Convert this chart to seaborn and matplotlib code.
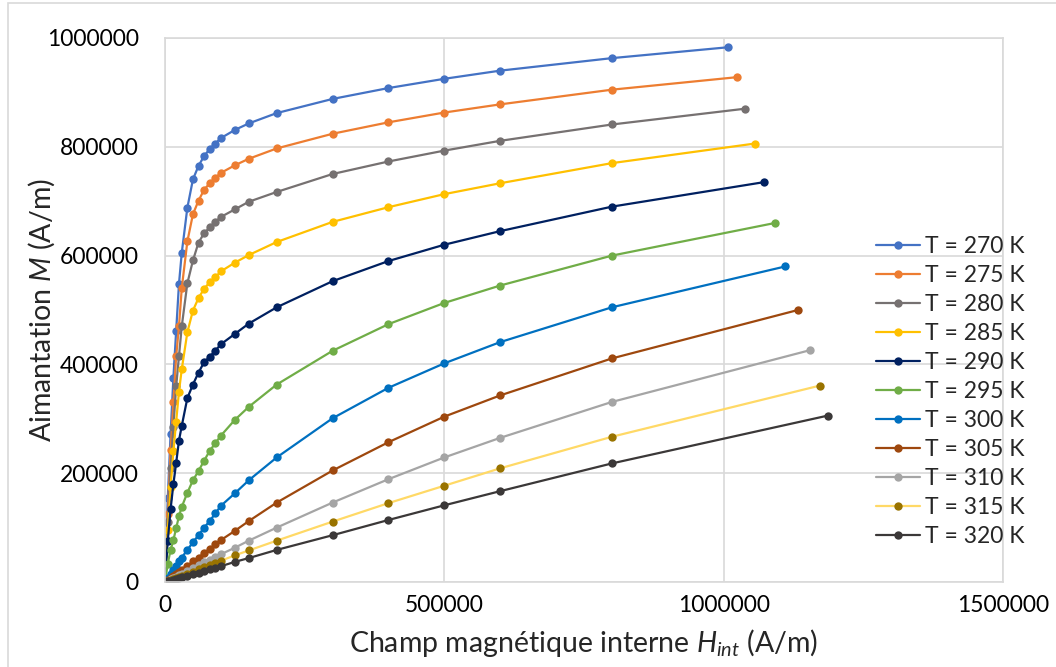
import numpy as np
import pandas as pd
import seaborn as sns
import matplotlib
matplotlib.use("Agg")
import matplotlib.pyplot as plt
from matplotlib.patches import Rectangle

# Temperatures and colours (Excel style)
temperatures = [270, 275, 280, 285, 290, 295, 300, 305, 310, 315, 320]
line_colors = ["#4472C4", "#ED7D31", "#767171", "#FFC000", "#002060", "#70AD47",
               "#0070C0", "#9E480E", "#A5A5A5", "#FFD966", "#3B3838"]
marker_colors = ["#4472C4", "#ED7D31", "#767171", "#FFC000", "#002060", "#70AD47",
                 "#0070C0", "#9E480E", "#A5A5A5", "#997300", "#3B3838"]

# Internal field values (A/m), shared by all curves, last point differs per curve
H_common = [0, 5000, 10000, 15000, 20000, 25000, 30000, 40000, 50000, 60000, 70000,
            80000, 90000, 100000, 125000, 150000, 200000, 300000, 400000, 500000,
            600000, 800000]
H_end = [1008000, 1024000, 1038000, 1056000, 1072000, 1092000, 1110000, 1133000,
         1154000, 1172000, 1187000]

# Magnetisation (kA/m) for each temperature, same order as H_common + end point
M_270 = [0, 155, 272, 375, 462, 548, 605, 688, 740, 765, 783, 796, 806, 816, 831, 843, 862, 888, 908, 925, 940, 963, 983]
M_275 = [0, 125, 242, 330, 415, 470, 540, 626, 676, 701, 721, 733, 743, 752, 766, 778, 797, 824, 845, 863, 878, 905, 928]
M_280 = [0, 110, 210, 285, 360, 415, 470, 549, 591, 624, 641, 652, 662, 671, 685, 699, 717, 750, 773, 793, 811, 841, 870]
M_285 = [0, 95, 175, 240, 295, 350, 391, 459, 499, 522, 539, 551, 560, 571, 587, 601, 625, 662, 689, 713, 733, 770, 806]
M_290 = [0, 76, 134, 180, 219, 260, 287, 338, 363, 385, 404, 414, 425, 437, 456, 475, 505, 553, 590, 620, 645, 690, 735]
M_295 = [0, 34, 59, 77, 99, 121, 138, 164, 187, 204, 223, 241, 255, 269, 298, 322, 363, 425, 474, 513, 545, 600, 660]
M_300 = [0, 7, 15, 22, 30, 38, 45, 59, 73, 86, 100, 112, 126, 140, 163, 187, 229, 301, 357, 402, 441, 505, 580]
M_305 = [0, 4, 7, 11, 15, 18, 22, 30, 38, 45, 53, 61, 69, 77, 94, 112, 146, 205, 257, 304, 343, 411, 500]
M_310 = [0, 2.5, 5, 7.5, 10, 12.5, 15, 20, 26, 31, 36, 41, 46, 51, 63, 76, 100, 146, 189, 229, 265, 331, 426]
M_315 = [0, 1.8, 3.7, 5.5, 7.5, 9.5, 11, 15, 19, 23, 27, 31, 35, 39, 49, 58, 76, 111, 145, 177, 209, 267, 361]
M_320 = [0, 1.3, 2.7, 4, 5.5, 7, 8.5, 11, 14, 17, 20, 23, 26, 29, 37, 44, 59, 86, 114, 141, 167, 218, 306]

M_all = [M_270, M_275, M_280, M_285, M_290, M_295, M_300, M_305, M_310, M_315, M_320]

rows = []
for T, h_last, M in zip(temperatures, H_end, M_all):
    for h, m in zip(H_common + [h_last], M):
        rows.append({"T": f"T = {T} K", "H": h, "M": m * 1000})
df = pd.DataFrame(rows)

sns.set_style("white")
plt.rcParams["font.family"] = ["Lato", "DejaVu Sans"]
plt.rcParams["mathtext.fontset"] = "custom"
plt.rcParams["mathtext.rm"] = "Lato"
plt.rcParams["mathtext.it"] = "Lato:italic"

fig = plt.figure(figsize=(10.56, 6.67), dpi=100)
ax = fig.add_axes([165 / 1056, 1 - 582 / 667, (1003 - 165) / 1056, (582 - 38) / 667])

for i, T in enumerate(temperatures):
    sub = df[df["T"] == f"T = {T} K"]
    sns.lineplot(data=sub, x="H", y="M", ax=ax, color=line_colors[i], marker="o",
                 markersize=6, markerfacecolor=marker_colors[i],
                 markeredgecolor=marker_colors[i], markeredgewidth=0,
                 linewidth=1.6, label=f"T = {T} K", sort=False)

ax.set_xlim(0, 1500000)
ax.set_ylim(0, 1000000)
ax.set_xticks([0, 500000, 1000000, 1500000])
ax.set_yticks(np.arange(0, 1000001, 200000))
ax.set_xticklabels(["0", "500000", "1000000", "1500000"])
ax.set_yticklabels([str(v) for v in range(0, 1000001, 200000)])
ax.tick_params(axis="x", labelsize=16.5, pad=9, length=0, colors="#000000")
ax.tick_params(axis="y", labelsize=16.5, pad=19, length=0, colors="#000000")
ax.grid(True, color="#D9D9D9", linewidth=1.2)
ax.set_axisbelow(True)
for s in ax.spines.values():
    s.set_color("#D9D9D9")
    s.set_linewidth(1.2)

ax.set_xlabel("Champ magnétique interne $H_{int}$ (A/m)", fontsize=20.5)
ax.set_ylabel("Aimantation $M$ (A/m)", fontsize=20.5)
ax.xaxis.set_label_coords(0.5, (582 - 643) / 544, transform=ax.transAxes)
ax.yaxis.set_label_coords((42 - 165) / 838, 0.5, transform=ax.transAxes)
ax.xaxis.label.set_va("center")
ax.yaxis.label.set_va("center")

leg = ax.legend(loc="upper left", bbox_to_anchor=(876 / 1056, 1 - 236 / 667),
                bbox_transform=fig.transFigure, frameon=False, fontsize=16.5,
                handlelength=1.9, handletextpad=0.25, labelspacing=0.35,
                borderpad=0, borderaxespad=0)

fig.patches.append(Rectangle((8 / 1056, -0.1), 1.2, 1 - 3 / 667 + 0.1, transform=fig.transFigure,
                             fill=False, edgecolor="#D9D9D9", linewidth=1.2))

fig.savefig("out.png", dpi=100)
